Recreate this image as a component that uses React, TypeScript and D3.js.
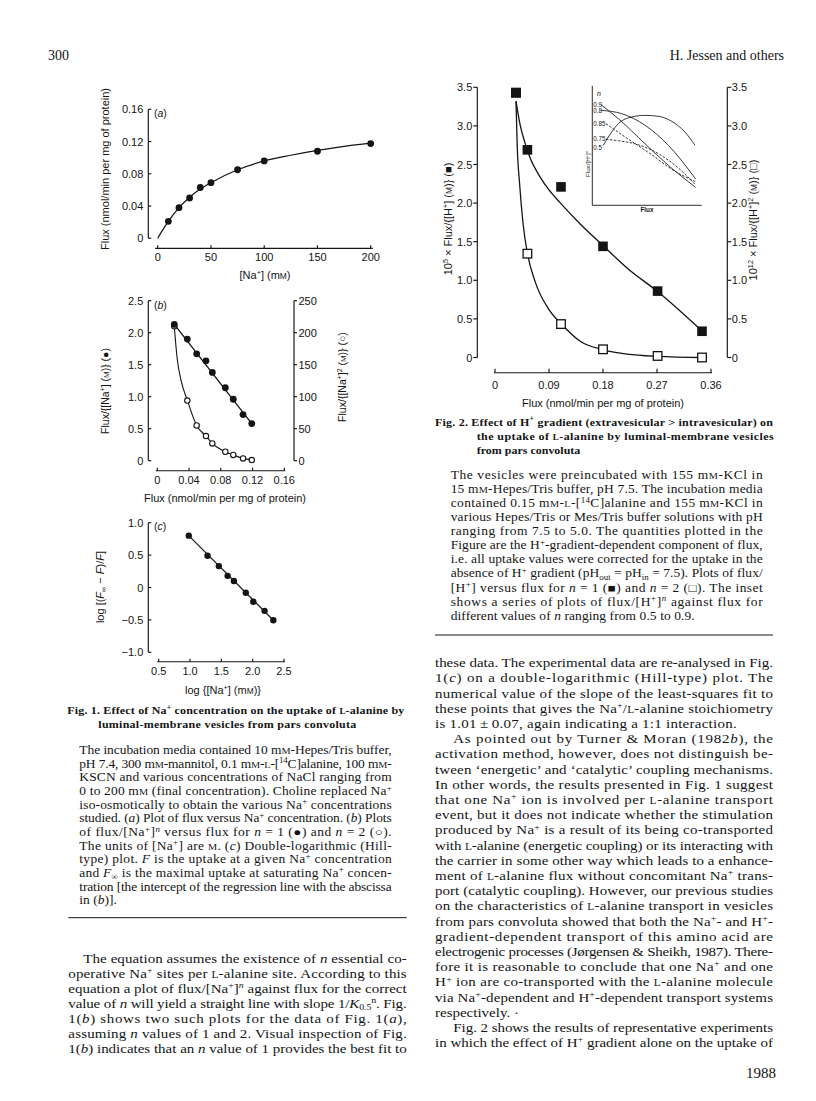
import React from 'react';
import * as d3 from 'd3';

// ---------------- Fig. 1(a): flux vs [Na+] ----------------
const naConc = [10, 20, 30, 40, 50, 75, 100, 150, 200];
const fluxA = [0.021, 0.038, 0.05, 0.063, 0.069, 0.085, 0.096, 0.108, 0.1175];
const fitANa = [0, 5, 10, 20, 30, 40, 50, 75, 100, 125, 150, 175, 200];
const fitAFlux = [0, 0.011, 0.021, 0.038, 0.051, 0.061, 0.069, 0.085, 0.096, 0.103, 0.109, 0.114, 0.118];
const ticksAX = [0, 50, 100, 150, 200];
const ticksAY = [0, 0.04, 0.08, 0.12, 0.16];
const labelsAY = ['0', '0.04', '0.08', '0.12', '0.16'];

// ---------------- Fig. 1(b): flux/[Na+]^n vs flux ----------------
const fluxB = [0.0214, 0.0378, 0.0496, 0.0613, 0.0693, 0.0857, 0.0957, 0.108, 0.119];
const ratioN1 = [2.13, 1.9, 1.67, 1.56, 1.38, 1.14, 0.96, 0.72, 0.58];
const ratioN2 = [210, 94, 55, 38.5, 27, 14, 9, 3.6, 1.0];
const fitN2Flux = [0.0214, 0.025, 0.03, 0.038, 0.0496, 0.0613, 0.0693, 0.0857, 0.0957, 0.108, 0.119];
const fitN2Val = [210, 160, 125, 94, 55, 38.5, 27, 14, 9, 3.6, 1.0];
const ticksBX = [0, 0.04, 0.08, 0.12, 0.16];
const labelsBX = ['0', '0.04', '0.08', '0.12', '0.16'];
const ticksBL = [0, 0.5, 1.0, 1.5, 2.0, 2.5];
const labelsBL = ['0', '0.5', '1.0', '1.5', '2.0', '2.5'];
const ticksBR = [0, 50, 100, 150, 200, 250];

// ---------------- Fig. 1(c): Hill plot ----------------
const logNa = [0.98, 1.28, 1.46, 1.6, 1.7, 1.89, 2.01, 2.19, 2.33];
const hillVal = [0.8, 0.49, 0.33, 0.18, 0.1, -0.08, -0.22, -0.36, -0.505];
const ticksCX = [0.5, 1.0, 1.5, 2.0, 2.5];
const labelsCX = ['0.5', '1.0', '1.5', '2.0', '2.5'];
const ticksCY = [-1, -0.5, 0, 0.5, 1.0];
const labelsCY = ['\u22121.0', '\u22120.5', '0', '0.5', '1.0'];

// ---------------- Fig. 2: H+ gradient ----------------
const fluxH = [0.035, 0.054, 0.11, 0.18, 0.271, 0.345];
const hN1 = [3.43, 2.69, 2.21, 1.44, 0.86, 0.34];
const hN2 = [3.43, 1.345, 0.433, 0.106, 0.02, 0.0];
const fitH1Flux = [0.035, 0.0417, 0.05, 0.0583, 0.075, 0.09, 0.108, 0.142, 0.18, 0.22, 0.27, 0.344];
const fitH1Val = [3.32, 3.02, 2.78, 2.59, 2.34, 2.17, 2.01, 1.73, 1.45, 1.16, 0.86, 0.35];
const fitH2Flux = [0.035, 0.037, 0.041, 0.047, 0.054, 0.067, 0.09, 0.111, 0.142, 0.18, 0.22, 0.272, 0.345];
const fitH2Val = [3.32, 2.75, 2.25, 1.72, 1.35, 0.98, 0.62, 0.43, 0.21, 0.1, 0.045, 0.015, 0.0];
const ticksHX = [0, 0.09, 0.18, 0.27, 0.36];
const labelsHX = ['0', '0.09', '0.18', '0.27', '0.36'];
const ticksHY = [0, 0.5, 1.0, 1.5, 2.0, 2.5, 3.0, 3.5];
const labelsHY = ['0', '0.5', '1.0', '1.5', '2.0', '2.5', '3.0', '3.5'];

// ---------------- Fig. 2 inset (relative units) ----------------
const insetN = ['0.9', '0.8', '0.85', '0.75', '0.5'];
const insetDashed = [false, false, true, true, false];
const insetX = [
  [0.08, 0.238, 0.482, 0.695, 0.945],
  [0.08, 0.269, 0.482, 0.695, 0.945],
  [0.125, 0.299, 0.543, 0.726, 0.945],
  [0.125, 0.238, 0.42, 0.603, 0.786, 0.945],
  [0.1, 0.177, 0.238, 0.36, 0.482, 0.603, 0.726, 0.847, 0.939],
];
const insetY = [
  [0.843, 0.726, 0.516, 0.335, 0.15],
  [0.796, 0.768, 0.671, 0.503, 0.22],
  [0.684, 0.573, 0.424, 0.302, 0.197],
  [0.553, 0.541, 0.508, 0.433, 0.313, 0.17],
  [0.503, 0.614, 0.684, 0.74, 0.754, 0.746, 0.704, 0.614, 0.503],
];
const insetLabelY = [0.843, 0.788, 0.684, 0.558, 0.48];

// ---------------- Text ----------------
const SANS = "'Liberation Sans', Arial, Helvetica, sans-serif";
const SERIF = "'Liberation Serif', 'Times New Roman', Times, serif";
const INK = '#141414';

const fig1Title = [
  'Fig. 1. Effect of Na^{+} concentration on the uptake of %l%-alanine by',
  'luminal-membrane vesicles from pars convoluta',
];
const fig1Caption = [
  'The incubation media contained 10 m%m%-Hepes/Tris buffer,',
  'pH 7.4, 300 m%m%-mannitol, 0.1 m%m%-%l%-[^{14}C]alanine, 100 m%m%-',
  'KSCN and various concentrations of NaCl ranging from',
  '0 to 200 m%m% (final concentration). Choline replaced Na^{+}',
  'iso-osmotically to obtain the various Na^{+} concentrations',
  'studied. (*a*) Plot of flux versus Na^{+} concentration. (*b*) Plots',
  'of flux/[Na^{+}]^{*n*} versus flux for *n* = 1 (\u25CF) and *n* = 2 (\u25CB).',
  'The units of [Na^{+}] are %m%. (*c*) Double-logarithmic (Hill-',
  'type) plot. *F* is the uptake at a given Na^{+} concentration',
  'and *F*_{\u221E} is the maximal uptake at saturating Na^{+} concen-',
  'tration [the intercept of the regression line with the abscissa',
  'in (*b*)].',
];
const fig2Title = [
  'Fig. 2. Effect of H^{+} gradient (extravesicular > intravesicular) on',
  'the uptake of %l%-alanine by luminal-membrane vesicles',
  'from pars convoluta',
];
const fig2Caption = [
  'The vesicles were preincubated with 155 m%m%-KCl in',
  '15 m%m%-Hepes/Tris buffer, pH 7.5. The incubation media',
  'contained 0.15 m%m%-%l%-[^{14}C]alanine and 155 m%m%-KCl in',
  'various Hepes/Tris or Mes/Tris buffer solutions with pH',
  'ranging from 7.5 to 5.0. The quantities plotted in the',
  'Figure are the H^{+}-gradient-dependent component of flux,',
  'i.e. all uptake values were corrected for the uptake in the',
  'absence of H^{+} gradient (pH_{out} = pH_{in} = 7.5). Plots of flux/',
  '[H^{+}] versus flux for *n* = 1 (\u25A0) and *n* = 2 (\u25A1). The inset',
  'shows a series of plots of flux/[H^{+}]^{*n*} against flux for',
  'different values of *n* ranging from 0.5 to 0.9.',
];
const leftMain = [
  'The equation assumes the existence of *n* essential co-',
  'operative Na^{+} sites per %l%-alanine site. According to this',
  'equation a plot of flux/[Na^{+}]^{*n*} against flux for the correct',
  'value of *n* will yield a straight line with slope 1/*K*_{0.5}^{n}. Fig.',
  '1(*b*) shows two such plots for the data of Fig. 1(*a*),',
  'assuming *n* values of 1 and 2. Visual inspection of Fig.',
  '1(*b*) indicates that an *n* value of 1 provides the best fit to',
];
const rightMain = [
  'these data. The experimental data are re-analysed in Fig.',
  '1(*c*) on a double-logarithmic (Hill-type) plot. The',
  'numerical value of the slope of the least-squares fit to',
  'these points that gives the Na^{+}/%l%-alanine stoichiometry',
  'is 1.01\u2009\u00B1\u20090.07, again indicating a 1:1 interaction.',
  'As pointed out by Turner & Moran (1982*b*), the',
  'activation method, however, does not distinguish be-',
  'tween \u2018energetic\u2019 and \u2018catalytic\u2019 coupling mechanisms.',
  'In other words, the results presented in Fig. 1 suggest',
  'that one Na^{+} ion is involved per %l%-alanine transport',
  'event, but it does not indicate whether the stimulation',
  'produced by Na^{+} is a result of its being co-transported',
  'with %l%-alanine (energetic coupling) or its interacting with',
  'the carrier in some other way which leads to a enhance-',
  'ment of %l%-alanine flux without concomitant Na^{+} trans-',
  'port (catalytic coupling). However, our previous studies',
  'on the characteristics of %l%-alanine transport in vesicles',
  'from pars convoluta showed that both the Na^{+}- and H^{+}-',
  'gradient-dependent transport of this amino acid are',
  'electrogenic processes (J\u00F8rgensen & Sheikh, 1987). There-',
  'fore it is reasonable to conclude that one Na^{+} and one',
  'H^{+} ion are co-transported with the %l%-alanine molecule',
  'via Na^{+}-dependent and H^{+}-dependent transport systems',
  'respectively. \u00B7',
  'Fig. 2 shows the results of representative experiments',
  'in which the effect of H^{+} gradient alone on the uptake of',
];
const rightIndent = [5, 24];
const rightLast = [4, 23];

// axis titles
const lblA_Y = 'Flux (nmol/min per mg of protein)';
const lblA_X = '[Na^{+}] (m%m%)';
const lblB_L = 'Flux/{[Na^{+}] (%m%)} (\u25CF)';
const lblB_R = 'Flux/{[Na^{+}]^{2} (%m%)} (\u25CB)';
const lblFlux = 'Flux (nmol/min per mg of protein)';
const lblC_Y = 'log [(*F*_{\u221E} \u2212 *F*)/*F*]';
const lblC_X = 'log {[Na^{+}] (m%m%)}';
const lblH_L = '10^{5} \u00D7 Flux/{[H^{+}] (%m%)} (\u25A0)';
const lblH_R = '10^{12} \u00D7 Flux/{[H^{+}]^{2} (%m%)} (\u25A1)';
const lblInsetY = 'Flux/[H^{+}]^{*n*}';

// ---------------- rich text helpers ----------------
type Seg = { t: string; sup?: boolean; sub?: boolean; it?: boolean; sc?: boolean };
function parse(s: string): Seg[] {
  const segs: Seg[] = [];
  let it = false;
  let sc = false;
  let buf = '';
  const flush = () => {
    if (buf) segs.push({ t: buf, it, sc });
    buf = '';
  };
  let i = 0;
  while (i < s.length) {
    const c = s[i];
    if ((c === '^' || c === '_') && s[i + 1] === '{') {
      flush();
      const end = s.indexOf('}', i);
      let inner = s.slice(i + 2, end);
      let iit = it;
      if (inner.startsWith('*') && inner.endsWith('*')) {
        inner = inner.slice(1, -1);
        iit = true;
      }
      segs.push({ t: inner, sup: c === '^', sub: c === '_', it: iit });
      i = end + 1;
      continue;
    }
    if (c === '*') {
      flush();
      it = !it;
      i++;
      continue;
    }
    if (c === '%') {
      flush();
      sc = !sc;
      i++;
      continue;
    }
    buf += c;
    i++;
  }
  flush();
  return segs;
}

type RichProps = {
  x: number;
  y: number;
  s: string;
  size: number;
  family: string;
  weight?: number | string;
  anchor?: string;
  width?: number;
  rotate?: number;
  vscale?: number;
  fill?: string;
};
function Rich({ x, y, s, size, family, weight, anchor, width, rotate, vscale, fill }: RichProps) {
  const segs = parse(s);
  let shift = 0;
  const kids = segs.map((g, k) => {
    let fs = size;
    let target = 0;
    if (g.sup) {
      fs = size * 0.66;
      target = -size * 0.38;
    }
    if (g.sub) {
      fs = size * 0.66;
      target = size * 0.2;
    }
    let t = g.t;
    if (g.sc) {
      t = t.toUpperCase();
      fs = fs * 0.76;
    }
    const dy = target - shift;
    shift = target;
    return (
      <tspan key={k} dy={dy !== 0 ? dy : undefined} fontSize={fs} fontStyle={g.it ? 'italic' : undefined}>
        {t}
      </tspan>
    );
  });
  let tr: string | undefined;
  if (rotate) tr = `translate(${x},${y}) rotate(${rotate})`;
  else if (vscale) tr = `translate(${x},${y}) scale(1,${vscale})`;
  const local = !!(rotate || vscale);
  return (
    <text
      x={local ? 0 : x}
      y={local ? 0 : y}
      transform={tr}
      fontFamily={family}
      fontSize={size}
      fontWeight={weight}
      textAnchor={anchor}
      textLength={width}
      lengthAdjust={width ? 'spacing' : undefined}
      fill={fill || INK}
    >
      {kids}
    </text>
  );
}

type Sc = d3.ScaleLinear<number, number>;
const pts = (xs: number[], ys: number[]) => xs.map((v, i) => [v, ys[i]] as [number, number]);
function linePath(sx: Sc, sy: Sc, xs: number[], ys: number[], curve: d3.CurveFactory = d3.curveMonotoneX) {
  return (
    d3
      .line<[number, number]>()
      .x((d) => sx(d[0]))
      .y((d) => sy(d[1]))
      .curve(curve)(pts(xs, ys)) || ''
  );
}

const AX = { stroke: INK, strokeWidth: 1.15, fill: 'none' } as const;
const TK = 11;
const MAIN = 15;
const CAP = 13.5;
const TITLE = 12;
const VS = 0.85;

function App() {
  // ---- Fig 1(a)
  const ax = d3.scaleLinear().domain([0, 200]).range([157.7, 370.7]);
  const ay = d3.scaleLinear().domain([0, 0.16]).range([238.3, 109.3]);
  const aYAxisX = 148.3;
  const aXAxisY = 248.3;

  // ---- Fig 1(b)
  const bx = d3.scaleLinear().domain([0, 0.16]).range([157.3, 284.3]);
  const byL = d3.scaleLinear().domain([0, 2.5]).range([460.7, 300.7]);
  const byR = d3.scaleLinear().domain([0, 250]).range([460.7, 300.7]);
  const bLX = 148.3;
  const bRX = 294;
  const bXY = 470.7;

  // ---- Fig 1(c)
  const cx = d3.scaleLinear().domain([0.5, 2.5]).range([158.7, 284]);
  const cy = d3.scaleLinear().domain([-1, 1]).range([652.3, 522.7]);
  const cYX = 148.3;
  const cXY = 661.7;

  // ---- Fig 2
  const hx = d3.scaleLinear().domain([0, 0.36]).range([495, 711]);
  const hy = d3.scaleLinear().domain([0, 3.5]).range([357.5, 87.3]);
  const hLX = 477.3;
  const hRX = 727.3;
  const hXY = 372.7;

  // ---- inset
  const ix = d3.scaleLinear().domain([0, 1]).range([592.3, 701.7]);
  const iy = d3.scaleLinear().domain([0, 1]).range([205.3, 86]);

  return (
    <svg width={816} height={1101} style={{ position: 'absolute', left: 0, top: 0, background: '#fff' }}>
      <rect x={0} y={0} width={816} height={1101} fill="#fff" />

      {/* page header / footer */}
      <Rich x={48} y={59.5} s="300" size={14} family={SERIF} />
      <Rich x={784} y={59.5} s="H. Jessen and others" size={14} family={SERIF} anchor="end" />
      <Rich x={776} y={1078} s="1988" size={15} family={SERIF} anchor="end" />

      {/* ================= Fig 1(a) ================= */}
      <g>
        <line x1={aYAxisX} x2={aYAxisX} y1={ay(0.16)} y2={ay(0)} {...AX} />
        {ticksAY.map((t, i) => (
          <g key={'ay' + i}>
            <line x1={aYAxisX} x2={aYAxisX + 3} y1={ay(t)} y2={ay(t)} {...AX} />
            <text x={aYAxisX - 5} y={ay(t) + 4} fontFamily={SANS} fontSize={TK} textAnchor="end" fill={INK}>
              {labelsAY[i]}
            </text>
          </g>
        ))}
        <line x1={ax(0) - 2.5} x2={ax(200) + 2} y1={aXAxisY} y2={aXAxisY} {...AX} />
        {ticksAX.map((t, i) => (
          <g key={'ax' + i}>
            <line x1={ax(t)} x2={ax(t)} y1={aXAxisY} y2={aXAxisY - 3} {...AX} />
            <text x={ax(t)} y={aXAxisY + 12.5} fontFamily={SANS} fontSize={TK} textAnchor="middle" fill={INK}>
              {String(t)}
            </text>
          </g>
        ))}
        <path d={linePath(ax, ay, fitANa, fitAFlux)} stroke={INK} strokeWidth={1.2} fill="none" />
        {naConc.map((c, i) => (
          <circle key={'pa' + i} cx={ax(c)} cy={ay(fluxA[i])} r={3.4} fill={INK} />
        ))}
        <Rich x={154} y={117} s="(*a*)" size={10.5} family={SANS} />
        <Rich x={109} y={169} s={lblA_Y} size={11} family={SANS} anchor="middle" rotate={-90} />
        <Rich x={265} y={279} s={lblA_X} size={11} family={SANS} anchor="middle" />
      </g>

      {/* ================= Fig 1(b) ================= */}
      <g>
        <line x1={bLX} x2={bLX} y1={byL(2.5)} y2={byL(0)} {...AX} />
        {ticksBL.map((t, i) => (
          <g key={'bl' + i}>
            <line x1={bLX} x2={bLX + 3} y1={byL(t)} y2={byL(t)} {...AX} />
            <text x={bLX - 5} y={byL(t) + 4} fontFamily={SANS} fontSize={TK} textAnchor="end" fill={INK}>
              {labelsBL[i]}
            </text>
          </g>
        ))}
        <line x1={bRX} x2={bRX} y1={byR(250)} y2={byR(0)} {...AX} />
        {ticksBR.map((t, i) => (
          <g key={'br' + i}>
            <line x1={bRX} x2={bRX + 3} y1={byR(t)} y2={byR(t)} {...AX} />
            <text x={bRX + 4.5} y={byR(t) + 4} fontFamily={SANS} fontSize={TK} textAnchor="start" fill={INK}>
              {String(t)}
            </text>
          </g>
        ))}
        <line x1={bx(0) - 1.5} x2={bx(0.16) + 1} y1={bXY} y2={bXY} {...AX} />
        {ticksBX.map((t, i) => (
          <g key={'bx' + i}>
            <line x1={bx(t)} x2={bx(t)} y1={bXY} y2={bXY - 3} {...AX} />
            <text x={bx(t)} y={bXY + 13.5} fontFamily={SANS} fontSize={TK} textAnchor="middle" fill={INK}>
              {labelsBX[i]}
            </text>
          </g>
        ))}
        <path
          d={linePath(bx, byL, [fluxB[0], fluxB[fluxB.length - 1]], [ratioN1[0], ratioN1[ratioN1.length - 1]], d3.curveLinear)}
          stroke={INK}
          strokeWidth={1.3}
          fill="none"
        />
        <path d={linePath(bx, byR, fitN2Flux, fitN2Val)} stroke={INK} strokeWidth={1.1} fill="none" />
        {fluxB.map((f, i) => (
          <circle key={'po' + i} cx={bx(f)} cy={byR(ratioN2[i])} r={2.7} fill="#fff" stroke={INK} strokeWidth={1.1} />
        ))}
        {fluxB.map((f, i) => (
          <circle key={'pb' + i} cx={bx(f)} cy={byL(ratioN1[i])} r={3.4} fill={INK} />
        ))}
        <Rich x={154} y={308.5} s="(*b*)" size={10.5} family={SANS} />
        <Rich x={109} y={391} s={lblB_L} size={10.5} family={SANS} anchor="middle" rotate={-90} />
        <Rich x={345.5} y={377} s={lblB_R} size={10.5} family={SANS} anchor="middle" rotate={-90} />
        <Rich x={225} y={502} s={lblFlux} size={11} family={SANS} anchor="middle" />
      </g>

      {/* ================= Fig 1(c) ================= */}
      <g>
        <line x1={cYX} x2={cYX} y1={cy(1)} y2={cy(-1)} {...AX} />
        {ticksCY.map((t, i) => (
          <g key={'cy' + i}>
            <line x1={cYX} x2={cYX + 3} y1={cy(t)} y2={cy(t)} {...AX} />
            <text x={cYX - 5} y={cy(t) + 4} fontFamily={SANS} fontSize={TK} textAnchor="end" fill={INK}>
              {labelsCY[i]}
            </text>
          </g>
        ))}
        <line x1={cx(0.5) - 1.5} x2={cx(2.5) + 1} y1={cXY} y2={cXY} {...AX} />
        {ticksCX.map((t, i) => (
          <g key={'cx' + i}>
            <line x1={cx(t)} x2={cx(t)} y1={cXY} y2={cXY - 3} {...AX} />
            <text x={cx(t)} y={cXY + 13} fontFamily={SANS} fontSize={TK} textAnchor="middle" fill={INK}>
              {labelsCX[i]}
            </text>
          </g>
        ))}
        <path
          d={linePath(cx, cy, [logNa[0], logNa[logNa.length - 1]], [hillVal[0], hillVal[hillVal.length - 1]], d3.curveLinear)}
          stroke={INK}
          strokeWidth={1.2}
          fill="none"
        />
        {logNa.map((v, i) => (
          <circle key={'pc' + i} cx={cx(v)} cy={cy(hillVal[i])} r={3.2} fill={INK} />
        ))}
        <Rich x={154} y={530} s="(*c*)" size={10.5} family={SANS} />
        <Rich x={104} y={587} s={lblC_Y} size={11} family={SANS} anchor="middle" rotate={-90} />
        <Rich x={223} y={694} s={lblC_X} size={11} family={SANS} anchor="middle" />
      </g>

      {/* ================= Fig 2 ================= */}
      <g>
        <line x1={hLX} x2={hLX} y1={hy(3.5)} y2={hy(0)} {...AX} />
        <line x1={hRX} x2={hRX} y1={hy(3.5)} y2={hy(0)} {...AX} />
        {ticksHY.map((t, i) => (
          <g key={'hy' + i}>
            <line x1={hLX - 4} x2={hLX} y1={hy(t)} y2={hy(t)} {...AX} />
            <line x1={hRX} x2={hRX + 4} y1={hy(t)} y2={hy(t)} {...AX} />
            <text x={hLX - 5} y={hy(t) + 4} fontFamily={SANS} fontSize={TK} textAnchor="end" fill={INK}>
              {labelsHY[i]}
            </text>
            <text x={hRX + 4.5} y={hy(t) + 4} fontFamily={SANS} fontSize={TK} textAnchor="start" fill={INK}>
              {labelsHY[i]}
            </text>
          </g>
        ))}
        <line x1={hx(0) - 1} x2={hx(0.36) + 1} y1={hXY} y2={hXY} {...AX} />
        {ticksHX.map((t, i) => (
          <g key={'hx' + i}>
            <line x1={hx(t)} x2={hx(t)} y1={hXY} y2={hXY - 4} {...AX} />
            <text x={hx(t)} y={hXY + 16} fontFamily={SANS} fontSize={TK} textAnchor="middle" fill={INK}>
              {labelsHX[i]}
            </text>
          </g>
        ))}
        <path d={linePath(hx, hy, fitH1Flux, fitH1Val)} stroke={INK} strokeWidth={1.3} fill="none" />
        <path d={linePath(hx, hy, fitH2Flux, fitH2Val)} stroke={INK} strokeWidth={1.3} fill="none" />
        {fluxH.map((f, i) => (
          <rect key={'ho' + i} x={hx(f) - 4.3} y={hy(hN2[i]) - 4.3} width={8.6} height={8.6} fill="#fff" stroke={INK} strokeWidth={1.3} />
        ))}
        {fluxH.map((f, i) => (
          <rect key={'hf' + i} x={hx(f) - 4.8} y={hy(hN1[i]) - 4.8} width={9.6} height={9.6} fill={INK} />
        ))}
        <Rich x={452} y={219} s={lblH_L} size={11} family={SANS} anchor="middle" rotate={-90} />
        <Rich x={757} y={220} s={lblH_R} size={11} family={SANS} anchor="middle" rotate={-90} />
        <Rich x={603} y={407} s={lblFlux} size={11} family={SANS} anchor="middle" />

        {/* inset */}
        <line x1={ix(0)} x2={ix(0)} y1={iy(1)} y2={iy(0)} stroke={INK} strokeWidth={0.9} />
        <line x1={ix(0)} x2={ix(1)} y1={iy(0)} y2={iy(0)} stroke={INK} strokeWidth={0.9} />
        {insetN.map((n, k) => (
          <g key={'in' + k}>
            <path
              d={linePath(ix, iy, insetX[k], insetY[k])}
              stroke={INK}
              strokeWidth={0.85}
              fill="none"
              strokeDasharray={insetDashed[k] ? '2.5,1.5' : undefined}
            />
            <text x={ix(0) + 1} y={iy(insetLabelY[k]) + 2.2} fontFamily={SANS} fontSize={6.3} fill={INK}>
              {n}
            </text>
          </g>
        ))}
        <text x={597} y={96} fontFamily={SANS} fontSize={7} fontStyle="italic" fill={INK}>
          n
        </text>
        <Rich x={590} y={164} s={lblInsetY} size={6.2} family={SANS} anchor="middle" rotate={-90} />
        <text x={647} y={212} fontFamily={SANS} fontSize={6.3} fontWeight="bold" textAnchor="middle" fill={INK}>
          Flux
        </text>
      </g>

      {/* ================= Fig 2 caption ================= */}
      <Rich x={435} y={425.5} s={fig2Title[0]} size={TITLE} family={SERIF} weight="bold" width={338} vscale={0.92} />
      <Rich x={476.7} y={439.5} s={fig2Title[1]} size={TITLE} family={SERIF} weight="bold" width={297} vscale={0.92} />
      <Rich x={476.7} y={454} s={fig2Title[2]} size={TITLE} family={SERIF} weight="bold" vscale={0.92} />
      {fig2Caption.map((t, i) => (
        <Rich
          key={'f2c' + i}
          x={450.7}
          y={475 + i * 14.07 + 4}
          s={t}
          size={CAP}
          family={SERIF}
          vscale={VS}
          width={i === fig2Caption.length - 1 ? 244 : 312}
        />
      ))}
      <line x1={435} x2={773} y1={635} y2={635} stroke={INK} strokeWidth={1} />

      {/* right column body */}
      {rightMain.map((t, i) => {
        const ind = rightIndent.includes(i);
        const x0 = ind ? 453.3 : 435;
        let w: number | undefined = 773 - x0;
        if (i === rightLast[0]) w = 301.7;
        if (i === rightLast[1]) w = undefined;
        return (
          <Rich key={'rm' + i} x={x0} y={662.7 + i * 15.2 + 4.5} s={t} size={MAIN} family={SERIF} vscale={VS} width={w} />
        );
      })}

      {/* ================= Fig 1 caption ================= */}
      <Rich x={67.3} y={714} s={fig1Title[0]} size={TITLE} family={SERIF} weight="bold" width={337} vscale={0.92} />
      <Rich x={98.3} y={728} s={fig1Title[1]} size={TITLE} family={SERIF} weight="bold" width={258} vscale={0.92} />
      {fig1Caption.map((t, i) => (
        <Rich
          key={'f1c' + i}
          x={79.3}
          y={750 + i * 13.65 + 4}
          s={t}
          size={CAP}
          family={SERIF}
          vscale={VS}
          width={i === fig1Caption.length - 1 ? undefined : 312.4}
        />
      ))}
      <line x1={68.3} x2={406.7} y1={917.7} y2={917.7} stroke={INK} strokeWidth={1} />

      {/* left column body */}
      {leftMain.map((t, i) => {
        const x0 = i === 0 ? 83.3 : 68.3;
        return (
          <Rich key={'lm' + i} x={x0} y={958.3 + i * 15 + 4.5} s={t} size={MAIN} family={SERIF} vscale={VS} width={406.7 - x0} />
        );
      })}
    </svg>
  );
}

export default App;
